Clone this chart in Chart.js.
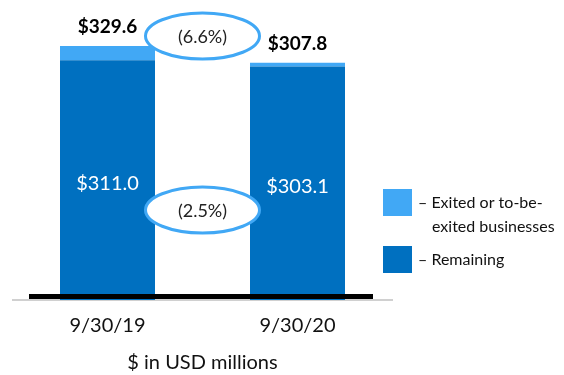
<!DOCTYPE html>
<html>
<head>
<meta charset="utf-8">
<script src="https://cdn.jsdelivr.net/npm/chart.js@4.4.1/dist/chart.umd.min.js"></script>
<style>
  html, body { margin: 0; padding: 0; background: #fff; }
  #wrap { width: 564px; height: 375px; position: relative; }
</style>
</head>
<body>
<div id="wrap"><canvas id="revenueChart" width="564" height="375"></canvas></div>
<script>
const categories = ['9/30/19', '9/30/20'];
const remainingValues = [311.0, 303.1];
const exitedValues = [18.6, 4.7];
const totalLabels = ['$329.6', '$307.8'];
const remainingLabels = ['$311.0', '$303.1'];
const changeLabels = ['(6.6%)', '(2.5%)'];
const legendLabels = [['– Exited or to-be-', 'exited businesses'], ['– Remaining']];
const axisTitle = '$ in USD millions';

const lightBlue = '#41a8f5';
const darkBlue = '#0070c0';
const fontFamily = 'Lato, "Open Sans", sans-serif';

const ctx = document.getElementById('revenueChart').getContext('2d');

// Draws the value labels, the change ellipses, the black base line and the legend
const overlayPlugin = {
    id: 'overlay',
    afterDatasetsDraw(chart) {
        const c = chart.ctx;
        const x = chart.scales.x;
        const y = chart.scales.y;
        const darkMeta = chart.getDatasetMeta(0);
        const lightMeta = chart.getDatasetMeta(1);

        // thick black base line
        c.save();
        c.fillStyle = '#000';
        c.fillRect(29, y.getPixelForValue(0) - 6, 344, 5);

        c.textAlign = 'center';
        c.textBaseline = 'middle';

        categories.forEach((cat, i) => {
            const dark = darkMeta.data[i];
            const light = lightMeta.data[i];
            c.fillStyle = '#fff';
            c.font = '20px ' + fontFamily;
            c.fillText(remainingLabels[i], dark.x, (dark.y + dark.base) / 2 + 3);
            c.fillStyle = '#000';
            c.font = 'bold 19px ' + fontFamily;
            c.fillText(totalLabels[i], light.x, light.y - 19);
        });

        // change ellipses between the bars
        const midX = (x.getPixelForValue(0) + x.getPixelForValue(1)) / 2;
        const ellipseY = [36, 210];
        changeLabels.forEach((txt, i) => {
            c.beginPath();
            c.ellipse(midX, ellipseY[i], 57, 23, 0, 0, Math.PI * 2);
            c.fillStyle = '#fff';
            c.fill();
            c.lineWidth = 3;
            c.strokeStyle = lightBlue;
            c.stroke();
            c.fillStyle = '#222';
            c.font = '18px ' + fontFamily;
            c.fillText(txt, midX, ellipseY[i] + 1);
        });

        // legend
        const legendColors = [lightBlue, darkBlue];
        const boxTop = [189, 246];
        c.textAlign = 'left';
        c.font = '16px ' + fontFamily;
        legendLabels.forEach((lines, i) => {
            c.fillStyle = legendColors[i];
            c.fillRect(383, boxTop[i], 29, 27);
            c.fillStyle = '#111';
            lines.forEach((line, j) => {
                c.fillText(line, j === 0 ? 418 : 432, boxTop[i] + 14 + j * 24);
            });
        });
        c.restore();
    }
};

new Chart(ctx, {
    type: 'bar',
    data: {
        labels: categories,
        datasets: [
            {
                label: 'Remaining',
                data: remainingValues,
                backgroundColor: darkBlue,
                stack: 's'
            },
            {
                label: 'Exited or to-be-exited businesses',
                data: exitedValues,
                backgroundColor: lightBlue,
                stack: 's'
            }
        ]
    },
    options: {
        responsive: false,
        animation: false,
        devicePixelRatio: 1,
        layout: { padding: { left: 12.5, right: 171.5, top: 11, bottom: 0 } },
        datasets: { bar: { barPercentage: 1, categoryPercentage: 0.5 } },
        scales: {
            x: {
                stacked: true,
                grid: { display: false, drawTicks: false },
                border: { display: true, color: '#d0d0d0', width: 2 },
                ticks: { color: '#111', font: { family: fontFamily, size: 20 }, padding: 14 },
                title: { display: true, text: axisTitle, color: '#111', font: { family: fontFamily, size: 20 }, padding: { top: 6, bottom: 0 } },
                afterFit: (scale) => { scale.height = 75; }
            },
            y: {
                stacked: true,
                display: false,
                min: 0,
                max: 375
            }
        },
        plugins: {
            legend: { display: false },
            tooltip: { enabled: false }
        }
    },
    plugins: [overlayPlugin]
});
</script>
</body>
</html>
